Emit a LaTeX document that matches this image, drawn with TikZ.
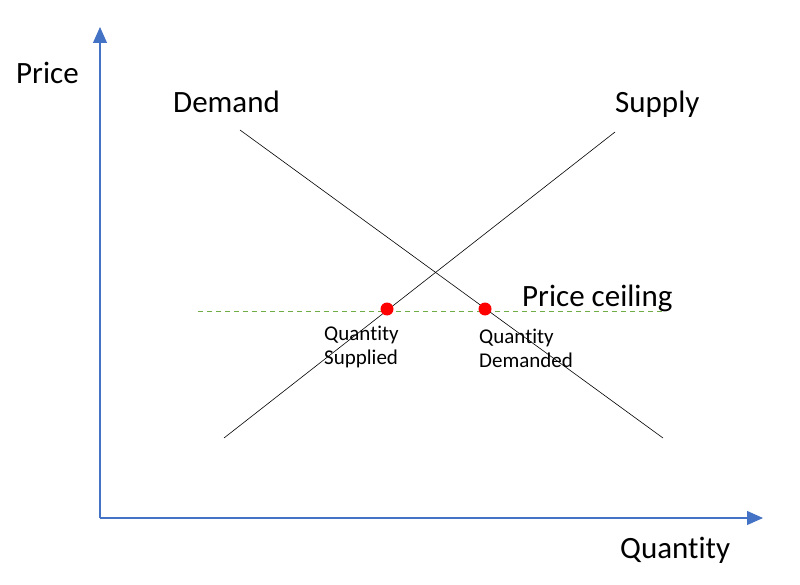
\documentclass[tikz,border=0pt]{standalone}
\usepackage{fontspec}
\setmainfont[Ligatures=NoCommon]{Carlito}
\usetikzlibrary{arrows.meta}
\definecolor{axisblue}{HTML}{4472C4}
\definecolor{ceilgreen}{HTML}{70AD47}
\begin{document}
\begin{tikzpicture}[x=1pt,y=-1pt,
  axis/.style={axisblue,line width=1.1pt,-{Triangle[width=14pt,length=16pt]}},
  curve/.style={black,line width=0.6pt},
  ceil/.style={ceilgreen,line width=0.6pt,dash pattern=on 5pt off 4pt},
  dot/.style={circle,fill=red,inner sep=0pt,minimum size=13pt},
  big/.style={inner sep=0pt,anchor=base west,font=\fontsize{31}{37}\selectfont},
  small/.style={inner sep=0pt,anchor=base west,align=left,font=\fontsize{21}{24}\selectfont}]
\useasboundingbox (0,0) rectangle (800,585);
\coordinate (O) at (100,518);
\coordinate (ytop) at (100,27);
\coordinate (xend) at (763,518);
\draw[axis] (O) -- (ytop);
\draw[axis] (O) -- (xend);
\coordinate (d1) at (240,130);
\coordinate (d2) at (663,438);
\coordinate (s1) at (224,438);
\coordinate (s2) at (615,132);
\coordinate (c1) at (198,311);
\coordinate (c2) at (664,311);
\draw[ceil] (c1) -- (c2);
\draw[curve] (d1) -- (d2);
\draw[curve] (s1) -- (s2);
\node[dot] (qs) at (387,309) {};
\node[dot] (qd) at (485,309) {};
\node[big] (price) at (16,84) {Price};
\node[big] (demand) at (173,113) {Demand};
\node[big] (supply) at (615,113) {Supply};
\node[big] (pc) at (522,306) {Price ceiling};
\node[big] (qty) at (620,558) {Quantity};
\node[small] (qsl) at (324,364) {Quantity\\Supplied};
\node[small] (qdl) at (479,367) {Quantity\\Demanded};
\end{tikzpicture}
\end{document}
